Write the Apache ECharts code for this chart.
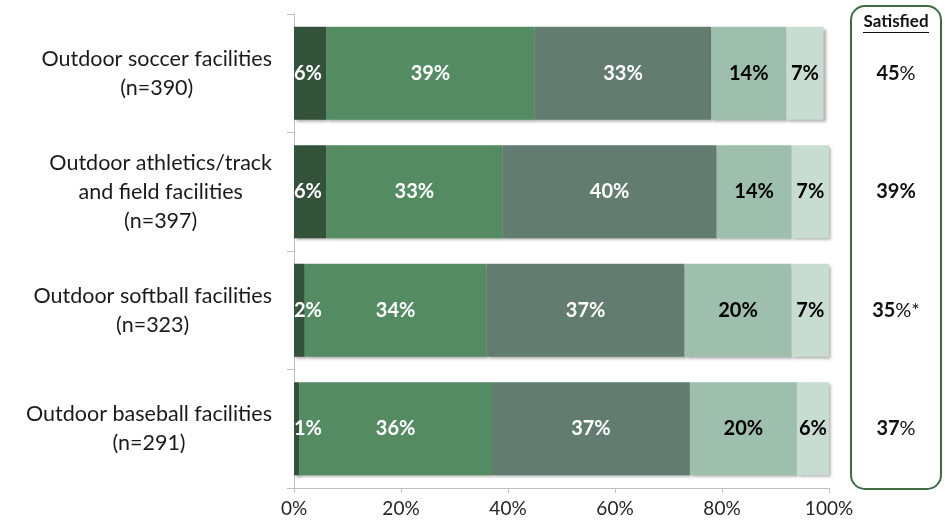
<!DOCTYPE html>
<html>
<head>
<meta charset="utf-8">
<script src="https://cdn.jsdelivr.net/npm/echarts@6/dist/echarts.min.js"></script>
<style>
  html, body { margin: 0; padding: 0; background: #fff; }
  #chart { width: 945px; height: 524px; }
</style>
</head>
<body>
<div id="chart"></div>
<script>
// Facility categories (top to bottom)
const categories = [
  'Outdoor soccer facilities\n(n=390)',
  'Outdoor athletics/track\nand field facilities\n(n=397)',
  'Outdoor softball facilities\n(n=323)',
  'Outdoor baseball facilities\n(n=291)'
];

// Satisfaction scale segments, left to right
const seriesNames = ['Very satisfied', 'Somewhat satisfied', 'Neutral', 'Somewhat dissatisfied', 'Very dissatisfied'];
const verySatisfied = [6, 6, 2, 1];
const somewhatSatisfied = [39, 33, 34, 36];
const neutral = [33, 40, 37, 37];
const somewhatDissatisfied = [14, 14, 20, 20];
const veryDissatisfied = [7, 7, 7, 6];

// Satisfied totals shown in the right-hand box
const satisfiedTotals = [45, 39, 35, 37];
const satisfiedNotes = ['', '', '*', ''];
const satisfiedPctBold = [false, true, false, false];

const xTicks = [0, 20, 40, 60, 80, 100];

const segColors = ['#34523a', '#558b62', '#627d6f', '#9ebfad', '#c9dcd2'];
const labelColors = ['#ffffff', '#ffffff', '#ffffff', '#000000', '#000000'];
const FONT = 'Lato, "Open Sans", sans-serif';

const seriesValues = [verySatisfied, somewhatSatisfied, neutral, somewhatDissatisfied, veryDissatisfied];

const chart = echarts.init(document.getElementById('chart'));

const series = seriesValues.map((vals, i) => ({
  name: seriesNames[i],
  type: 'bar',
  stack: 'total',
  yAxisIndex: 0,
  barWidth: 93,
  data: vals,
  itemStyle: {
    color: segColors[i],
    shadowColor: 'rgba(0,0,0,0.35)',
    shadowBlur: 3,
    shadowOffsetX: 2,
    shadowOffsetY: 2
  },
  label: {
    show: true,
    position: i === 0 ? 'insideLeft' : 'inside',
    distance: i === 0 ? 0 : 5,
    formatter: p => p.value + '%',
    color: labelColors[i],
    fontFamily: FONT,
    fontWeight: 'bold',
    fontSize: 20
  },
  emphasis: { disabled: true }
}));

const option = {
  animation: false,
  grid: { left: 294, right: 116, top: 14, bottom: 36, containLabel: false },
  xAxis: {
    type: 'value',
    min: 0,
    max: 100,
    interval: 20,
    axisLine: { show: true, lineStyle: { color: '#bfbfbf', width: 1 } },
    axisTick: { show: true, length: 5, lineStyle: { color: '#bfbfbf' } },
    splitLine: { show: false },
    axisLabel: {
      formatter: v => xTicks.includes(v) ? v + '%' : '',
      color: '#262626',
      fontFamily: FONT,
      fontSize: 19,
      margin: 11
    }
  },
  yAxis: [
    {
      type: 'category',
      data: categories,
      inverse: true,
      axisLine: { show: true, lineStyle: { color: '#bfbfbf', width: 1 } },
      axisTick: { show: true, length: 7, lineStyle: { color: '#bfbfbf' } },
      axisLabel: {
        align: 'right',
        margin: 22,
        formatter: v => v.split('\n').map(s => '{c|' + s + '}').join('\n'),
        rich: {
          c: {
            align: 'center',
            fontFamily: FONT,
            fontSize: 21.5,
            lineHeight: 29,
            color: '#1a1a1a'
          }
        }
      }
    },
    {
      type: 'category',
      data: categories,
      inverse: true,
      position: 'right',
      axisLine: { show: false },
      axisTick: { show: false },
      axisLabel: {
        align: 'center',
        margin: 67,
        formatter: (v, idx) => {
          const num = satisfiedTotals[idx];
          const pct = satisfiedPctBold[idx] ? '{b|%}' : '{r|%}';
          const note = satisfiedNotes[idx] ? '{r|' + satisfiedNotes[idx] + '}' : '';
          return '{b|' + num + '}' + pct + note;
        },
        rich: {
          b: { fontFamily: FONT, fontWeight: 'bold', fontSize: 20, color: '#111' },
          r: { fontFamily: FONT, fontWeight: 'normal', fontSize: 20, color: '#111' }
        }
      }
    }
  ],
  graphic: [
    {
      type: 'rect',
      shape: { x: 851, y: 6, width: 90, height: 483, r: 14 },
      style: { fill: 'none', stroke: '#3f6b47', lineWidth: 2 },
      silent: true
    },
    {
      type: 'text',
      x: 896,
      y: 13,
      style: {
        text: 'Satisfied',
        fontFamily: FONT,
        fontWeight: 'bold',
        fontSize: 17,
        fill: '#111',
        textAlign: 'center',
        textVerticalAlign: 'top'
      },
      silent: true
    },
    {
      type: 'line',
      shape: { x1: 863, y1: 32.5, x2: 929, y2: 32.5 },
      style: { stroke: '#111', lineWidth: 1 },
      silent: true
    }
  ],
  series: series
};

chart.setOption(option);
</script>
</body>
</html>
